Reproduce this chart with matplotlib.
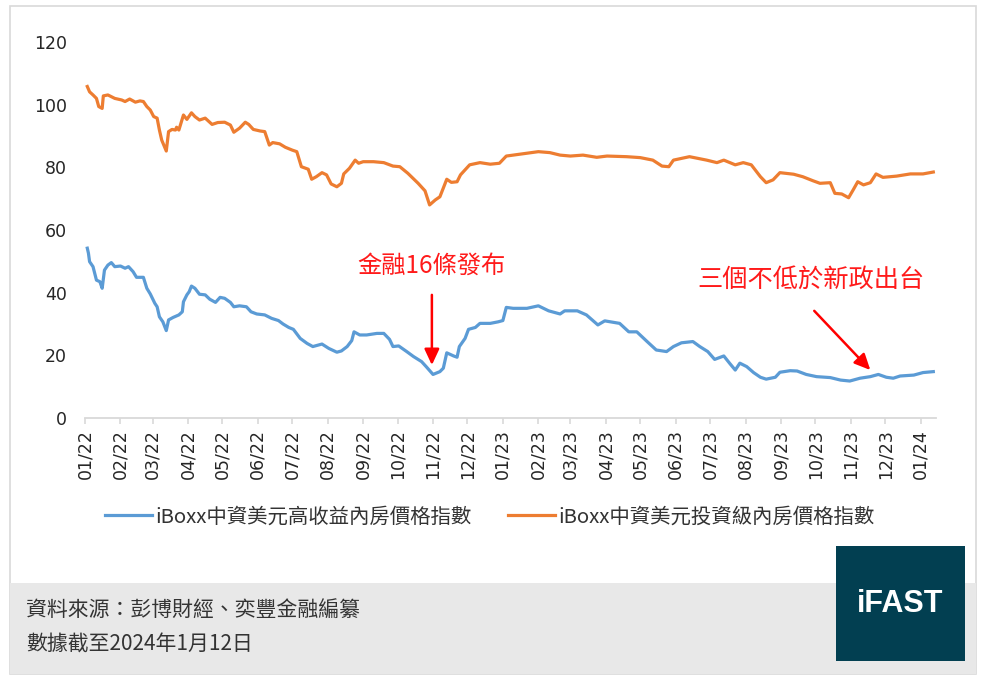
import pandas as pd
import matplotlib
matplotlib.use("Agg")
import matplotlib.pyplot as plt
import matplotlib.dates as mdates
from matplotlib.patches import Rectangle

plt.rcParams['font.family'] = ['Noto Sans CJK TC', 'DejaVu Sans']

# days counted from 2022-01-01
hy_days = [2, 3, 4, 7, 10, 13, 15, 17, 20, 23, 26, 31, 35, 38, 42, 45, 51, 54, 57, 61,
           63, 65, 68, 71, 73, 77, 82, 85, 86, 89, 91, 93, 96, 100, 105, 109, 114, 118, 122, 127,
           130, 135, 141, 145, 150, 157, 163, 169, 173, 178, 182, 188, 194, 199, 207, 213, 220, 224, 229, 233,
           235, 240, 246, 255, 261, 266, 269, 274, 281, 287, 294, 298, 304, 310, 313, 316, 322, 325, 327, 332,
           335, 341, 345, 354, 361, 365, 368, 374, 386, 396, 405, 415, 419, 430, 438, 448, 454, 467, 475, 482,
           491, 499, 508, 514, 521, 531, 537, 544, 550, 558, 563, 568, 572, 578, 584, 590, 595, 603, 607, 616,
           622, 630, 639, 651, 660, 668, 677, 686, 693, 700, 706, 712, 724, 732, 741]
hy_vals = [54.2, 52.6, 49.9, 48.3, 44.0, 43.5, 41.4, 47.2, 48.8, 49.6, 48.3, 48.5, 47.8, 48.3, 46.7, 44.9, 44.9, 41.4, 39.6, 36.6,
           35.5, 32.3, 30.7, 27.9, 31.3, 32.1, 32.9, 33.9, 37.1, 39.3, 40.3, 42.1, 41.4, 39.5, 39.3, 37.9, 36.9, 38.5, 38.2, 36.9,
           35.5, 35.8, 35.5, 33.9, 33.2, 32.9, 31.8, 31.1, 30.0, 28.9, 28.3, 25.4, 23.8, 22.8, 23.6, 22.2, 21.0, 21.4, 22.8, 24.7,
           27.5, 26.5, 26.5, 27.0, 27.0, 25.1, 22.8, 23.0, 21.2, 19.6, 18.0, 16.4, 13.9, 14.8, 15.9, 20.8, 19.8, 19.4, 22.8, 25.4,
           28.3, 28.9, 30.2, 30.2, 30.7, 31.1, 35.3, 35.0, 35.0, 35.8, 34.2, 33.2, 34.2, 34.2, 32.9, 29.7, 31.0, 30.2, 27.5, 27.5,
           24.4, 21.7, 21.2, 22.8, 24.0, 24.4, 22.8, 21.2, 18.7, 19.8, 17.5, 15.3, 17.5, 16.4, 14.5, 13.0, 12.4, 13.0, 14.6, 15.1,
           15.0, 13.9, 13.2, 12.9, 12.1, 11.8, 12.7, 13.2, 13.9, 13.0, 12.7, 13.4, 13.7, 14.5, 14.8]

ig_days = [2, 4, 7, 10, 12, 15, 16, 20, 26, 32, 35, 39, 44, 48, 51, 54, 57, 60, 63, 65,
           67, 71, 73, 76, 79, 80, 82, 86, 89, 93, 96, 100, 105, 111, 116, 122, 127, 130, 135, 140,
           143, 147, 153, 157, 161, 164, 170, 175, 181, 185, 189, 195, 198, 202, 207, 211, 215, 220, 224, 226,
           231, 236, 239, 243, 252, 261, 269, 275, 282, 291, 297, 301, 306, 310, 316, 320, 325, 328, 336, 345,
           354, 362, 368, 380, 396, 406, 415, 424, 435, 447, 456, 473, 485, 496, 504, 510, 514, 528, 543, 552,
           558, 568, 575, 582, 590, 595, 601, 607, 619, 627, 636, 642, 651, 655, 661, 667, 671, 675, 680, 686,
           691, 697, 709, 721, 732, 741]
ig_vals = [105.8, 104.1, 103.1, 102.0, 99.4, 98.8, 102.8, 103.1, 102.0, 101.5, 101.0, 101.8, 100.8, 101.2, 101.0, 99.4, 98.3, 96.2, 95.7, 91.9,
           88.7, 85.2, 91.4, 92.1, 91.9, 92.8, 91.9, 96.7, 95.3, 97.4, 96.2, 95.1, 95.7, 93.7, 94.3, 94.4, 93.5, 91.2, 92.5, 94.4,
           93.7, 92.1, 91.6, 91.4, 87.1, 87.9, 87.5, 86.4, 85.5, 85.0, 80.2, 79.4, 76.2, 77.0, 78.3, 77.6, 74.7, 73.8, 74.9, 77.9,
           79.7, 82.3, 81.3, 81.8, 81.8, 81.5, 80.4, 80.2, 78.1, 74.9, 72.5, 68.0, 69.6, 70.6, 76.2, 75.2, 75.4, 77.6, 80.8, 81.5,
           81.0, 81.3, 83.6, 84.2, 85.0, 84.7, 83.9, 83.6, 83.9, 83.2, 83.6, 83.4, 83.1, 82.3, 80.4, 80.2, 82.3, 83.4, 82.3, 81.5,
           82.3, 80.8, 81.5, 80.8, 77.0, 75.1, 76.0, 78.3, 77.8, 77.0, 75.7, 74.9, 75.1, 71.7, 71.5, 70.3, 72.8, 75.4, 74.4, 75.1,
           77.9, 76.8, 77.2, 77.9, 77.9, 78.5]

hy_label = 'iBoxx中資美元高收益內房價格指數'
ig_label = 'iBoxx中資美元投資級內房價格指數'
note1 = '金融16條發布'
note2 = '三個不低於新政出台'
source = '資料來源：彭博財經、奕豐金融編纂'
asof = '數據截至2024年1月12日'

start = pd.Timestamp('2022-01-01')
hy_dates = start + pd.to_timedelta(hy_days, unit='D')
ig_dates = start + pd.to_timedelta(ig_days, unit='D')

W, H = 987, 680
fig = plt.figure(figsize=(W / 100, H / 100), dpi=100)

def fx(px):
    return px / W

def fy(py):
    return 1 - py / H

# panel frame and grey footer
fig.add_artist(Rectangle((fx(10), fy(674)), fx(966), (674 - 6) / H, transform=fig.transFigure,
                         fill=False, edgecolor='#d9d9d9', lw=1.2))
fig.add_artist(Rectangle((fx(10), fy(674)), fx(966), (674 - 583) / H, transform=fig.transFigure,
                         facecolor='#e8e8e8', edgecolor='none'))

ax = fig.add_axes([fx(85), fy(418), fx(935.6 - 85), (418 - 42) / H])
ax.plot(hy_dates, hy_vals, color='#5b9bd5', lw=2.3, label=hy_label)
ax.plot(ig_dates, ig_vals, color='#ed7d31', lw=2.3, label=ig_label)

ax.set_ylim(0, 120)
ax.set_yticks(range(0, 121, 20))
ax.set_xlim(start, pd.Timestamp('2024-01-14'))
ax.xaxis.set_major_locator(mdates.MonthLocator())
ax.xaxis.set_major_formatter(mdates.DateFormatter('%m/%y'))
for s in ['top', 'right', 'left']:
    ax.spines[s].set_visible(False)
ax.spines['bottom'].set_color('#d9d9d9')
ax.spines['bottom'].set_linewidth(1.3)
ax.tick_params(axis='y', length=0, pad=13, labelsize=12.5, labelcolor='#262626')
ax.tick_params(axis='x', length=4, width=1.2, color='#d9d9d9', pad=4, labelsize=12.5,
               labelcolor='#262626', labelrotation=90)
for lab in ax.get_xticklabels() + ax.get_yticklabels():
    lab.set_family('DejaVu Sans')

# annotations
d1 = start + pd.Timedelta(days=303)
ax.text(d1, 48.5, note1, color='#ff1a1a', fontsize=17.5, ha='center', va='center')
ax.annotate('', xy=(d1, 16.9), xytext=(d1, 39.3),
            arrowprops=dict(arrowstyle='-|>,head_length=0.6,head_width=0.28', color='#ff0000',
                            lw=1.8, mutation_scale=16, shrinkA=0, shrinkB=0))
ax.text(start + pd.Timedelta(days=634), 43.7, note2, color='#ff1a1a', fontsize=18.2,
        ha='center', va='center')
ax.annotate('', xy=(start + pd.Timedelta(days=686), 15.3), xytext=(start + pd.Timedelta(days=637), 34.2),
            arrowprops=dict(arrowstyle='-|>,head_length=0.6,head_width=0.28', color='#ff0000',
                            lw=1.8, mutation_scale=16, shrinkA=0, shrinkB=0))

fig.legend(loc='center', bbox_to_anchor=(fx(490), fy(517)), ncol=2, frameon=False,
           fontsize=14.7, handlelength=2.3, handletextpad=0.15, columnspacing=1.8,
           labelcolor='#333333')

# footer
fig.text(fx(26), fy(610), source, fontsize=15, color='#333333', va='center')
fig.text(fx(26), fy(645), asof, fontsize=15, color='#333333', va='center')

fig.add_artist(Rectangle((fx(836), fy(661)), fx(965 - 836), (661 - 546) / H, transform=fig.transFigure,
                         facecolor='#023f51', edgecolor='none'))
fig.text(fx(900), fy(604), 'iFAST', family='Liberation Sans', weight='bold', fontsize=22,
         color='white', ha='center', va='center')

fig.savefig('out.png', dpi=100)
